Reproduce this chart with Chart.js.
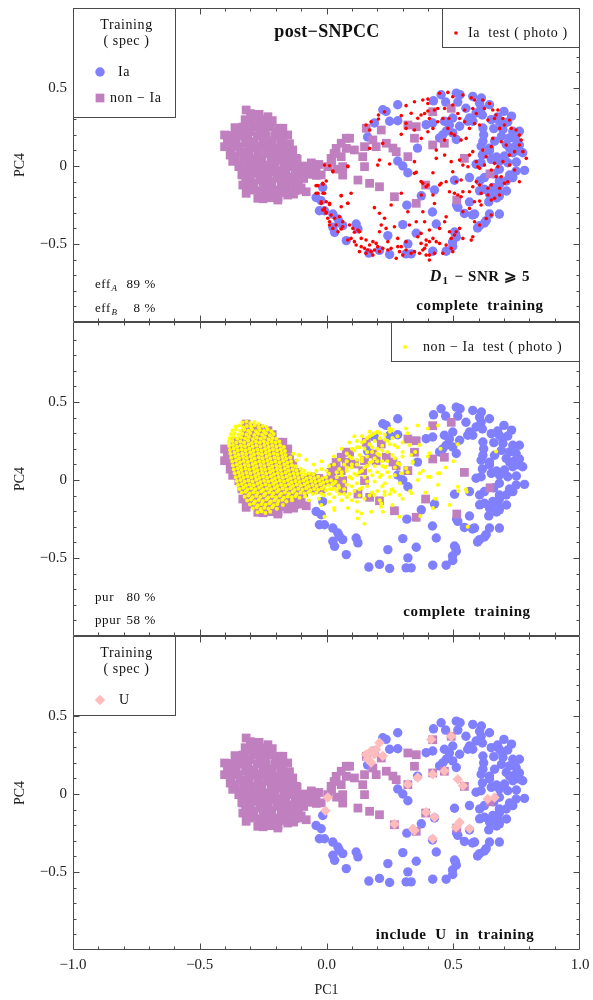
<!DOCTYPE html>
<html>
<head>
<meta charset="utf-8">
<title>post-SNPCC PCA projections</title>
<script src="https://cdn.jsdelivr.net/npm/chart.js@4.4.1/dist/chart.umd.min.js"></script>
<style>
  html, body { margin: 0; padding: 0; background: #fff; }
  #wrap { position: relative; width: 593px; height: 1000px; }
  #wrap canvas { position: absolute; left: 0; top: 0; }
</style>
</head>
<body>
<div id="wrap">
  <canvas id="panelTop" width="593" height="1000"></canvas>
  <canvas id="panelMid" width="593" height="1000"></canvas>
  <canvas id="panelBot" width="593" height="1000"></canvas>
</div>
<script>
// ---- axis ticks -------------------------------------------------------
const xTickValues = [-1, -0.5, 0, 0.5, 1];
const xMinorTicks = [-0.9, -0.8, -0.7, -0.6, -0.4, -0.3, -0.2, -0.1, 0.1, 0.2, 0.3, 0.4, 0.6, 0.7, 0.8, 0.9];
const yTickValues = [-0.5, 0, 0.5];
const yMinorTicks = [-0.9, -0.8, -0.7, -0.6, -0.4, -0.3, -0.2, -0.1, 0.1, 0.2, 0.3, 0.4, 0.6, 0.7, 0.8, 0.9];

// ---- Ia training sample (spec) : [PC1, PC4] ---------------------------
const iaTrain = [
  [0.452,0.457],[0.422,0.418],[0.512,0.467],[0.527,0.457],[0.518,0.410],[0.577,0.446],[0.604,0.403],[0.610,0.371],
  [0.643,0.393],[0.590,0.340],[0.577,0.287],[0.617,0.244],[0.650,0.297],[0.682,0.287],[0.715,0.282],[0.696,0.234],
  [0.735,0.223],[0.761,0.223],[0.722,0.180],[0.748,0.170],[0.617,0.159],[0.610,0.127],[0.663,0.159],[0.709,0.138],
  [0.761,0.096],[0.735,0.085],[0.774,0.085],[0.643,0.096],[0.650,0.043],[0.682,0.032],[0.702,0.064],[0.715,0.021],
  [0.682,-0.021],[0.610,0.021],[0.590,0.011],[0.748,-0.032],[0.781,-0.028],[0.735,-0.074],[0.709,-0.096],[0.682,-0.096],
  [0.656,-0.138],[0.676,-0.159],[0.682,-0.191],[0.643,-0.180],[0.623,-0.149],[0.604,-0.096],[0.564,-0.074],[0.505,-0.091],
  [0.604,-0.159],[0.557,0.287],[0.525,0.255],[0.498,0.308],[0.465,0.287],[0.472,0.223],[0.498,0.212],[0.512,0.170],
  [0.446,0.180],[0.419,0.276],[0.393,0.265],[0.281,0.393],[0.249,0.287],[0.281,0.290],[0.222,0.361],[0.235,0.350],
  [0.281,0.032],[0.301,0.000],[0.321,-0.043],[-0.015,-0.138],[-0.041,-0.202],[-0.021,-0.223],[-0.028,-0.287],[-0.008,-0.287],
  [0.025,-0.308],[0.045,-0.340],[0.051,-0.361],[0.025,-0.393],[0.032,-0.425],[0.064,-0.382],[0.078,-0.478],[0.117,-0.372],
  [0.124,-0.403],[0.242,-0.446],[0.301,-0.376],[0.354,-0.431],[0.433,-0.372],[0.321,-0.499],[0.314,-0.563],[0.334,-0.563],
  [0.209,-0.541],[0.167,-0.558],[0.249,-0.567],[0.419,-0.546],[0.472,-0.546],[0.498,-0.516],[0.509,-0.435],[0.512,-0.456],
  [0.604,-0.382],[0.630,-0.350],[0.643,-0.308],[0.682,-0.308],[0.584,-0.308],[0.544,-0.304],[0.518,-0.265],[0.374,-0.191],
  [0.317,-0.251],[0.623,-0.074],[0.611,0.436],[0.675,0.314],[0.694,0.263],[0.615,0.327],[0.564,0.308],[0.485,0.263],
  [0.458,0.199],[0.643,0.115],[0.615,0.071],[0.671,0.058],[0.722,0.115],[0.761,0.135],[0.749,0.026],[0.722,-0.058],
  [0.682,-0.122],[0.671,-0.205],[0.426,-0.154],[0.513,-0.250],[0.564,-0.231],[0.576,-0.314],[0.623,-0.365],[0.596,-0.397],
  [0.418,-0.295],[0.505,-0.423],[0.497,-0.487],[0.189,0.276],[0.162,0.186],[0.359,0.115],[0.700,0.350],[0.730,0.320],
  [0.660,0.240],[0.690,0.190],[0.740,0.120],[0.620,0.200],[0.660,-0.050],[0.710,-0.160],[0.640,-0.230],[0.550,0.370],
  [0.470,0.410]
];

// ---- non-Ia training sample (spec) ------------------------------------
const nonIaTrain = [
  [-0.317,0.359],[-0.271,0.316],[-0.231,0.316],[-0.310,0.284],[-0.264,0.274],[-0.225,0.263],[-0.172,0.242],[-0.153,0.199],
  [-0.402,0.199],[-0.356,0.231],[-0.304,0.220],[-0.370,0.178],[-0.402,0.124],[-0.350,0.124],[-0.291,0.156],[-0.238,0.188],
  [-0.218,0.135],[-0.179,0.156],[-0.172,0.092],[-0.133,0.103],[-0.120,0.049],[-0.363,0.060],[-0.317,0.081],[-0.271,0.103],
  [-0.225,0.081],[-0.185,0.038],[-0.343,0.006],[-0.291,0.017],[-0.245,0.006],[-0.205,-0.015],[-0.159,0.006],[-0.120,-0.015],
  [-0.330,-0.058],[-0.284,-0.047],[-0.238,-0.058],[-0.192,-0.079],[-0.146,-0.069],[-0.107,-0.058],[-0.074,-0.015],[-0.041,-0.026],
  [0.005,-0.004],[0.018,0.049],[0.058,0.060],[0.064,-0.004],[0.064,-0.058],[0.058,0.146],[0.078,0.178],[-0.330,-0.122],
  [-0.291,-0.133],[-0.245,-0.122],[-0.205,-0.154],[-0.159,-0.154],[-0.113,-0.154],[-0.317,-0.175],[-0.271,-0.207],[-0.231,-0.197],
  [-0.192,-0.218],[-0.153,-0.186],[-0.080,-0.165],
  [-0.290,0.330],[-0.250,0.290],[-0.330,0.250],[-0.280,0.250],[-0.200,0.220],[-0.370,0.150],[-0.320,0.190],[-0.260,0.200],
  [-0.230,0.160],[-0.340,0.090],[-0.300,0.120],[-0.260,0.130],[-0.200,0.110],[-0.160,0.130],[-0.370,0.030],[-0.310,0.050],
  [-0.270,0.050],[-0.210,0.050],[-0.150,0.060],[-0.320,-0.030],[-0.260,-0.020],[-0.220,-0.040],[-0.170,-0.030],[-0.130,0.020],
  [-0.310,-0.090],[-0.260,-0.090],[-0.220,-0.100],[-0.170,-0.110],[-0.120,-0.100],[-0.090,-0.080],[-0.060,-0.050],[-0.290,-0.150],
  [-0.240,-0.160],[-0.180,-0.170],[-0.130,-0.180],[-0.250,-0.210],[-0.100,-0.140],[-0.040,-0.060],[-0.030,0.010],[-0.060,0.020],
  [-0.090,0.000],[0.030,0.080],[0.020,0.030],[0.040,-0.020],[-0.350,0.200],[-0.380,0.070],
  [-0.300,0.336],[-0.266,0.331],[-0.321,0.297],[-0.286,0.292],[-0.251,0.298],[-0.214,0.291],[-0.361,0.246],[-0.324,0.241],
  [-0.291,0.248],[-0.254,0.243],[-0.222,0.249],[-0.189,0.242],[-0.386,0.196],[-0.344,0.193],[-0.311,0.198],[-0.274,0.192],
  [-0.241,0.197],[-0.204,0.191],[-0.171,0.196],[-0.391,0.146],[-0.356,0.142],[-0.319,0.148],[-0.286,0.143],[-0.249,0.147],
  [-0.216,0.141],[-0.181,0.147],[-0.146,0.143],[-0.376,0.096],[-0.339,0.092],[-0.306,0.098],[-0.269,0.093],[-0.236,0.097],
  [-0.199,0.091],[-0.166,0.096],[-0.136,0.092],[-0.359,0.046],[-0.326,0.042],[-0.289,0.048],[-0.256,0.043],[-0.219,0.047],
  [-0.186,0.041],[-0.151,0.046],[-0.116,0.043],[-0.346,-0.004],[-0.309,-0.008],[-0.276,-0.002],[-0.239,-0.007],[-0.206,-0.003],
  [-0.169,-0.009],[-0.136,-0.004],[-0.099,-0.008],[-0.066,-0.003],[-0.334,-0.054],[-0.301,-0.058],[-0.264,-0.052],[-0.231,-0.057],
  [-0.194,-0.053],[-0.161,-0.059],[-0.124,-0.054],[-0.091,-0.058],[-0.054,-0.053],[-0.021,-0.057],[-0.319,-0.104],[-0.286,-0.108],
  [-0.249,-0.102],[-0.216,-0.107],[-0.179,-0.103],[-0.146,-0.109],[-0.111,-0.104],[-0.301,-0.154],[-0.264,-0.158],[-0.231,-0.152],
  [-0.194,-0.157],[-0.161,-0.153],[-0.126,-0.158],[-0.261,-0.198],[-0.224,-0.203],[-0.191,-0.199],
  [0.078,0.113],[0.110,0.103],[0.143,0.060],[0.150,-0.004],[0.124,-0.090],[0.170,-0.111],[0.209,-0.133],[0.268,-0.197],
  [0.354,-0.239],[0.321,0.060],[0.347,0.178],[0.354,0.252],[0.321,0.263],[0.216,0.231],[0.183,0.167],[0.236,0.146],
  [0.275,0.092],[0.157,0.242],[0.091,0.178],[0.150,0.124],[0.196,0.124],[0.038,0.113],[0.419,0.348],[0.492,0.370],
  [0.419,0.135],[0.465,0.146],[0.544,0.049],[0.645,-0.050],[0.391,-0.122],[0.514,-0.218],[0.262,0.115]
];

// ---- Ia test sample (photo) -------------------------------------------
const iaTest = [
  [0.347,0.412],[0.314,0.387],[0.400,0.429],[0.334,0.338],[0.295,0.323],[0.229,0.348],[0.205,0.327],[0.205,0.301],
  [0.176,0.284],[0.156,0.263],[0.170,0.231],[0.314,0.274],[0.314,0.241],[0.347,0.231],[0.400,0.353],[0.373,0.327],
  [0.360,0.306],[0.295,0.203],[0.222,0.145],[0.209,0.038],[0.249,0.013],[0.202,0.006],[0.347,0.028],[0.354,-0.041],
  [0.373,-0.100],[0.170,0.113],[0.084,-0.004],[0.097,-0.175],[0.058,-0.190],[-0.008,0.006],[0.012,0.002],[0.025,-0.036],
  [-0.041,-0.126],[-0.015,-0.111],[-0.001,-0.096],[-0.034,-0.175],[-0.008,-0.175],[-0.021,-0.229],[0.012,-0.239],[-0.008,-0.271],
  [-0.001,-0.303],[0.018,-0.314],[-0.015,-0.282],[0.005,-0.335],[0.012,-0.357],[0.032,-0.335],[0.051,-0.325],[0.064,-0.357],
  [0.012,-0.378],[0.025,-0.400],[0.038,-0.378],[0.064,-0.389],[0.045,-0.421],[0.058,-0.404],[0.091,-0.378],[0.104,-0.400],
  [0.110,-0.425],[0.124,-0.410],[0.130,-0.421],[0.097,-0.464],[0.084,-0.474],[0.110,-0.485],[0.117,-0.506],[0.137,-0.464],
  [0.156,-0.474],[0.137,-0.517],[0.150,-0.528],[0.170,-0.506],[0.183,-0.485],[0.163,-0.538],[0.176,-0.549],[0.189,-0.538],
  [0.202,-0.517],[0.209,-0.549],[0.222,-0.528],[0.242,-0.538],[0.255,-0.528],[0.281,-0.517],[0.288,-0.549],[0.301,-0.571],
  [0.314,-0.538],[0.334,-0.560],[0.347,-0.549],[0.367,-0.560],[0.380,-0.538],[0.393,-0.506],[0.295,-0.517],[0.275,-0.592],
  [0.235,-0.400],[0.268,-0.389],[0.281,-0.464],[0.216,-0.378],[0.209,-0.421],[0.327,-0.378],[0.354,-0.357],[0.373,-0.496],
  [0.393,-0.571],[0.406,-0.603],[0.255,-0.250],[0.229,-0.335],[0.189,-0.267],[0.209,-0.303],[0.084,-0.239],[0.058,-0.261],
  [0.295,-0.175],[0.321,-0.293],[0.406,-0.485],[0.314,-0.485],[0.242,-0.485],[0.183,-0.571],[0.156,-0.560],[0.130,-0.549],
  [0.196,-0.496],[0.360,-0.453],[0.373,-0.432],[0.347,-0.047],[0.380,-0.111],[0.400,-0.122],
  [0.446,0.466],[0.479,0.472],[0.498,0.444],[0.538,0.455],[0.571,0.438],[0.584,0.423],[0.617,0.423],[0.643,0.401],
  [0.656,0.359],[0.676,0.359],[0.669,0.327],[0.663,0.305],[0.696,0.305],[0.722,0.295],[0.702,0.263],[0.683,0.241],
  [0.729,0.241],[0.748,0.231],[0.761,0.198],[0.768,0.166],[0.761,0.134],[0.775,0.092],[0.788,0.049],[0.742,0.092],
  [0.722,0.070],[0.709,0.134],[0.689,0.156],[0.656,0.177],[0.650,0.124],[0.617,0.102],[0.630,0.060],[0.663,0.017],
  [0.623,0.006],[0.597,-0.005],[0.591,0.028],[0.564,0.070],[0.577,0.092],[0.551,0.177],[0.531,0.166],[0.505,0.198],
  [0.492,0.209],[0.479,0.241],[0.459,0.305],[0.439,0.284],[0.406,0.305],[0.387,0.337],[0.380,0.423],[0.400,0.401],
  [0.426,0.359],[0.439,0.369],[0.498,0.391],[0.518,0.337],[0.545,0.359],[0.577,0.369],[0.591,0.337],[0.623,0.369],
  [0.637,0.295],[0.604,0.263],[0.584,0.273],[0.564,0.241],[0.545,0.284],[0.525,0.305],[0.483,0.305],[0.466,0.369],
  [0.420,0.241],[0.400,0.220],[0.374,0.177],[0.433,0.102],[0.466,0.166],[0.433,0.049],[0.466,0.070],[0.492,0.028],
  [0.525,0.038],[0.538,0.006],[0.558,-0.005],[0.604,-0.015],[0.650,-0.026],[0.676,-0.005],[0.696,0.028],[0.722,0.006],
  [0.742,-0.026],[0.761,-0.101],[0.715,-0.101],[0.689,-0.069],[0.669,-0.069],[0.650,-0.122],[0.637,-0.143],[0.604,-0.122],
  [0.591,-0.101],[0.577,-0.133],[0.610,-0.175],[0.637,-0.186],[0.663,-0.207],[0.683,-0.186],[0.702,-0.111],[0.683,-0.143],
  [0.650,-0.218],[0.584,-0.229],[0.604,-0.225],[0.564,-0.165],[0.538,-0.165],[0.531,-0.197],[0.505,-0.175],[0.518,-0.186],
  [0.485,-0.165],[0.446,-0.122],[0.452,-0.111],[0.393,-0.133],[0.420,-0.043],[0.498,-0.037],[0.512,-0.101],[0.531,-0.090],
  [0.472,-0.101],[0.538,-0.293],[0.564,-0.272],[0.584,-0.357],[0.604,-0.378],[0.512,-0.421],[0.525,-0.400],[0.485,-0.421],
  [0.466,-0.357],[0.472,-0.325],[0.492,-0.464],[0.505,-0.443],[0.538,-0.464],[0.571,-0.475],[0.577,-0.453],[0.446,-0.496],
  [0.433,-0.485],[0.420,-0.464],[0.393,-0.475],[0.387,-0.528],[0.406,-0.571],[0.426,-0.560],[0.459,-0.560],[0.492,-0.528],
  [0.498,-0.549],[0.472,-0.507],[0.446,-0.400],[0.406,-0.410],[0.387,-0.357],[0.380,-0.293],[0.426,-0.240],[0.420,-0.186],
  [0.374,-0.186],[0.610,-0.250],[0.650,-0.314],[0.630,-0.336],
  [0.025,-0.032],[0.084,0.000],[-0.034,-0.126],[-0.014,-0.118],[-0.041,-0.175],[-0.014,-0.175],[0.058,-0.190],[0.084,-0.239],
  [-0.021,-0.239],[-0.001,-0.229],[0.012,-0.246],[-0.008,-0.282],[-0.001,-0.297]
];

// ---- non-Ia test sample (photo) ---------------------------------------
const nonIaTest = [
  [-0.332,0.368],[-0.316,0.375],[-0.300,0.364],[-0.284,0.372],[-0.268,0.361],
  [-0.360,0.343],[-0.345,0.350],[-0.329,0.339],[-0.314,0.347],[-0.298,0.341],[-0.283,0.351],[-0.267,0.338],[-0.252,0.346],[-0.237,0.340],
  [-0.371,0.318],[-0.356,0.325],[-0.340,0.314],[-0.325,0.322],[-0.309,0.316],[-0.294,0.326],[-0.278,0.313],[-0.263,0.321],[-0.247,0.315],[-0.232,0.324],[-0.217,0.312],
  [-0.377,0.293],[-0.363,0.300],[-0.347,0.289],[-0.332,0.297],[-0.316,0.291],[-0.301,0.301],[-0.285,0.288],[-0.270,0.296],[-0.254,0.290],[-0.239,0.299],[-0.223,0.287],[-0.208,0.295],
  [-0.382,0.268],[-0.368,0.275],[-0.352,0.264],[-0.337,0.272],[-0.321,0.266],[-0.306,0.276],[-0.290,0.263],[-0.275,0.271],[-0.259,0.265],[-0.244,0.274],[-0.228,0.262],[-0.213,0.270],[-0.198,0.264],
  [-0.386,0.243],[-0.371,0.250],[-0.356,0.239],[-0.340,0.247],[-0.325,0.241],[-0.309,0.251],[-0.294,0.238],[-0.278,0.246],[-0.263,0.240],[-0.247,0.249],[-0.232,0.237],[-0.216,0.245],[-0.201,0.239],[-0.186,0.247],
  [-0.384,0.218],[-0.369,0.225],[-0.353,0.214],[-0.338,0.222],[-0.322,0.216],[-0.307,0.226],[-0.291,0.213],[-0.276,0.221],[-0.260,0.215],[-0.245,0.224],[-0.229,0.212],[-0.214,0.220],[-0.198,0.214],[-0.183,0.223],[-0.168,0.211],
  [-0.381,0.193],[-0.366,0.200],[-0.350,0.189],[-0.335,0.197],[-0.319,0.191],[-0.304,0.201],[-0.288,0.188],[-0.273,0.196],[-0.257,0.190],[-0.242,0.199],[-0.226,0.187],[-0.211,0.195],[-0.195,0.189],[-0.180,0.198],[-0.164,0.186],
  [-0.379,0.168],[-0.363,0.175],[-0.348,0.164],[-0.332,0.172],[-0.317,0.166],[-0.301,0.176],[-0.286,0.163],[-0.270,0.171],[-0.255,0.165],[-0.239,0.174],[-0.224,0.162],[-0.208,0.170],[-0.193,0.164],[-0.177,0.173],[-0.162,0.161],[-0.131,0.168],[-0.108,0.158],
  [-0.376,0.143],[-0.360,0.150],[-0.345,0.139],[-0.329,0.147],[-0.314,0.141],[-0.298,0.151],[-0.283,0.138],[-0.267,0.146],[-0.252,0.140],[-0.236,0.149],[-0.221,0.137],[-0.205,0.145],[-0.190,0.139],[-0.174,0.148],[-0.159,0.136],[-0.143,0.144],
  [-0.372,0.118],[-0.357,0.125],[-0.341,0.114],[-0.326,0.122],[-0.310,0.116],[-0.295,0.126],[-0.279,0.113],[-0.264,0.121],[-0.248,0.115],[-0.233,0.124],[-0.217,0.112],[-0.202,0.120],[-0.186,0.114],[-0.171,0.123],[-0.155,0.111],[-0.140,0.119],[-0.118,0.126],
  [-0.369,0.093],[-0.353,0.100],[-0.338,0.089],[-0.322,0.097],[-0.307,0.091],[-0.291,0.101],[-0.276,0.088],[-0.260,0.096],[-0.245,0.090],[-0.229,0.099],[-0.214,0.087],[-0.198,0.095],[-0.183,0.089],[-0.167,0.098],[-0.152,0.086],[-0.136,0.094],[-0.121,0.088],
  [-0.366,0.068],[-0.350,0.075],[-0.335,0.064],[-0.319,0.072],[-0.304,0.066],[-0.288,0.076],[-0.273,0.063],[-0.257,0.071],[-0.242,0.065],[-0.226,0.074],[-0.211,0.062],[-0.195,0.070],[-0.180,0.064],[-0.164,0.073],[-0.149,0.061],[-0.133,0.069],[-0.118,0.063],[-0.102,0.072],[-0.087,0.060],
  [-0.362,0.043],[-0.347,0.050],[-0.331,0.039],[-0.316,0.047],[-0.300,0.041],[-0.285,0.051],[-0.269,0.038],[-0.254,0.046],[-0.238,0.040],[-0.223,0.049],[-0.207,0.037],[-0.192,0.045],[-0.176,0.039],[-0.161,0.048],[-0.145,0.036],[-0.130,0.044],[-0.114,0.038],[-0.099,0.047],[-0.083,0.035],[-0.068,0.043],[-0.052,0.037],
  [-0.358,0.018],[-0.343,0.025],[-0.327,0.014],[-0.312,0.022],[-0.296,0.016],[-0.281,0.026],[-0.265,0.013],[-0.250,0.021],[-0.234,0.015],[-0.219,0.024],[-0.203,0.012],[-0.188,0.020],[-0.172,0.014],[-0.157,0.023],[-0.141,0.011],[-0.126,0.019],[-0.110,0.013],[-0.095,0.022],[-0.079,0.010],[-0.064,0.018],[-0.048,0.012],[-0.033,0.021],[-0.017,0.009],[-0.002,0.017],
  [-0.354,-0.007],[-0.339,0.000],[-0.323,-0.011],[-0.308,-0.003],[-0.292,-0.009],[-0.277,0.001],[-0.261,-0.012],[-0.246,-0.004],[-0.230,-0.010],[-0.215,-0.001],[-0.199,-0.013],[-0.184,-0.005],[-0.168,-0.011],[-0.153,-0.002],[-0.137,-0.014],[-0.122,-0.006],[-0.106,-0.012],[-0.091,-0.003],[-0.075,-0.015],[-0.060,-0.007],[-0.044,-0.013],[-0.029,-0.004],[-0.013,-0.016],[0.002,-0.008],[0.018,-0.002],[0.036,-0.011],
  [-0.349,-0.032],[-0.334,-0.025],[-0.318,-0.036],[-0.303,-0.028],[-0.287,-0.034],[-0.272,-0.024],[-0.256,-0.037],[-0.241,-0.029],[-0.225,-0.035],[-0.210,-0.026],[-0.194,-0.038],[-0.179,-0.030],[-0.163,-0.036],[-0.148,-0.027],[-0.132,-0.039],[-0.117,-0.031],[-0.101,-0.037],[-0.086,-0.028],[-0.070,-0.040],[-0.055,-0.032],[-0.039,-0.038],[-0.024,-0.029],[-0.008,-0.041],[0.007,-0.033],[0.023,-0.027],[0.047,-0.035],
  [-0.343,-0.057],[-0.328,-0.050],[-0.312,-0.061],[-0.297,-0.053],[-0.281,-0.059],[-0.266,-0.049],[-0.250,-0.062],[-0.235,-0.054],[-0.219,-0.060],[-0.204,-0.051],[-0.188,-0.063],[-0.173,-0.055],[-0.157,-0.061],[-0.142,-0.052],[-0.126,-0.064],[-0.111,-0.056],[-0.095,-0.062],[-0.080,-0.053],[-0.064,-0.065],[-0.049,-0.057],[-0.033,-0.063],[-0.018,-0.054],[-0.002,-0.066],[0.013,-0.058],[0.031,-0.052],
  [-0.334,-0.082],[-0.319,-0.075],[-0.303,-0.086],[-0.288,-0.078],[-0.272,-0.084],[-0.257,-0.074],[-0.241,-0.087],[-0.226,-0.079],[-0.210,-0.085],[-0.195,-0.076],[-0.179,-0.088],[-0.164,-0.080],[-0.148,-0.086],[-0.133,-0.077],[-0.117,-0.089],[-0.102,-0.081],[-0.086,-0.087],[-0.071,-0.078],[-0.055,-0.090],[-0.040,-0.082],[-0.021,-0.088],
  [-0.323,-0.107],[-0.308,-0.100],[-0.292,-0.111],[-0.277,-0.103],[-0.261,-0.109],[-0.246,-0.099],[-0.230,-0.112],[-0.215,-0.104],[-0.199,-0.110],[-0.184,-0.101],[-0.168,-0.113],[-0.153,-0.105],[-0.137,-0.111],[-0.122,-0.102],[-0.106,-0.114],[-0.084,-0.106],
  [-0.313,-0.132],[-0.298,-0.125],[-0.282,-0.136],[-0.267,-0.128],[-0.251,-0.134],[-0.236,-0.124],[-0.220,-0.137],[-0.205,-0.129],[-0.189,-0.135],[-0.174,-0.126],[-0.158,-0.138],[-0.136,-0.130],
  [-0.302,-0.157],[-0.287,-0.150],[-0.271,-0.161],[-0.256,-0.153],[-0.240,-0.159],[-0.225,-0.149],[-0.209,-0.162],[-0.194,-0.154],[-0.172,-0.160],
  [-0.291,-0.182],[-0.276,-0.175],[-0.260,-0.186],[-0.245,-0.178],[-0.229,-0.184],[-0.214,-0.174],[-0.196,-0.185],
  [-0.272,-0.207],[-0.256,-0.200],[-0.241,-0.211],[-0.222,-0.203],
  [0.060,0.030],[0.080,0.060],[0.070,-0.010],[0.090,0.020],[0.100,0.080],[0.110,0.040],[0.120,0.100],[0.100,0.140],
  [0.130,0.160],[0.120,0.210],[0.140,0.240],[0.150,0.200],[0.160,0.270],[0.170,0.230],[0.180,0.290],[0.190,0.250],
  [0.200,0.310],[0.210,0.270],[0.220,0.220],[0.230,0.290],[0.240,0.250],[0.250,0.310],[0.260,0.270],[0.140,0.120],
  [0.160,0.150],[0.180,0.180],[0.200,0.200],[0.150,0.080],[0.170,0.110],[0.190,0.140],[0.210,0.160],[0.130,0.050],
  [0.150,0.020],[0.170,0.060],[0.190,0.090],[0.220,0.120],[0.240,0.180],[0.120,-0.020],[0.140,-0.050],[0.160,-0.010],
  [0.180,0.030],[0.200,0.050],[0.110,-0.070],[0.130,-0.100],[0.090,-0.090],[0.070,-0.060],[0.050,-0.090],[0.030,-0.110],
  [0.060,-0.130],[0.010,-0.140],[0.100,-0.130],[0.150,-0.120],[0.180,-0.080],[0.220,-0.040],[0.250,0.020],[0.270,0.080],
  [0.280,0.210],[0.300,0.240],[0.270,0.140],[0.230,0.080],[0.260,-0.060],[0.290,-0.020],[0.320,0.050],[0.340,0.110],
  [0.330,-0.070],[0.360,0.000],[0.380,0.060],[0.410,0.020],[0.390,-0.080],[0.440,-0.030],[0.470,0.080],[0.520,-0.070],
  [0.550,-0.060],[0.350,0.180],[0.400,0.150],[0.450,0.200],[0.500,0.120],[0.430,-0.120],[0.210,-0.130],[0.260,-0.160],
  [0.300,-0.120],[0.080,0.120],[0.050,0.070],[-0.020,0.120],[-0.050,0.100],[-0.080,0.130],[-0.110,0.160],[0.010,0.090],
  [0.030,0.150],[0.060,0.200],[0.090,0.240],[0.110,0.280],[-0.030,-0.120],[-0.070,-0.130],[-0.020,-0.160],[0.030,-0.180],
  [0.120,-0.200],[0.370,-0.230],[0.250,-0.090],[0.320,0.300],[0.440,0.350],[0.360,0.350],
  [0.400,0.330],[0.314,0.330],[0.248,0.330],[0.268,0.225],[0.327,0.225],[0.367,0.225],[0.406,0.171],[0.446,0.043],
  [0.518,-0.043],[0.553,-0.075],[0.557,-0.299],[0.485,-0.160],[0.420,-0.180],[0.518,0.229],[0.669,0.182],[0.334,0.160],
  [0.300,0.150],[0.281,0.107],[0.235,0.086],[0.216,0.032],[0.229,-0.075],[0.255,-0.064],[0.288,-0.096],[0.334,-0.085],
  [0.216,-0.150],[0.222,-0.203],[0.288,-0.235],[0.367,0.043],[0.400,0.021],[0.440,0.043],[0.294,0.043],[0.314,0.075],
  [0.340,0.118],[0.123,-0.246],[-0.008,-0.235],[0.031,-0.192],[0.084,-0.180],[0.137,-0.214],[0.176,-0.203],[0.215,-0.171],
  [0.229,-0.096],[0.268,-0.075],[0.189,-0.096],[0.150,-0.280],
  [0.070,0.100],[0.090,0.150],[0.110,0.190],[0.130,0.210],[0.150,0.250],[0.170,0.280],[0.190,0.300],[0.210,0.300],
  [0.230,0.260],[0.250,0.230],[0.220,0.190],[0.200,0.170],[0.180,0.210],[0.160,0.180],[0.140,0.140],[0.120,0.130],
  [0.100,0.100],[0.080,0.080],[0.060,0.050],[0.040,0.020],[0.030,-0.020],[0.050,-0.050],[0.080,-0.030],[0.100,0.010],
  [0.120,0.030],[0.140,0.060],[0.160,0.090],[0.180,0.120],[0.200,0.120],[0.220,0.090],[0.240,0.120],[0.260,0.160],
  [0.240,0.050],[0.210,0.020],[0.190,-0.010],[0.160,-0.040],[0.130,-0.060],[0.100,-0.040],[0.070,-0.090],[0.040,-0.070],
  [0.020,-0.060],[0.010,-0.090],[-0.010,-0.100],[0.080,-0.110],[0.120,-0.140],[0.170,-0.100],[0.200,-0.070],[0.230,-0.020],
  [0.270,0.030],[0.290,0.100],[0.300,0.180],[0.280,0.280],[0.260,0.320],[0.170,0.310],[0.140,0.280],[0.120,0.250],
  [0.100,0.200],[0.080,0.170],[0.050,0.130],[0.030,0.100],[0.000,0.060],[-0.020,0.070],[-0.040,0.060],[0.010,0.040],
  [0.040,0.050]
];

// ---- unclassified (U) spectroscopic sample ----------------------------
const uTrain = [
  [0.209,0.329],[0.176,0.276],[0.156,0.254],[0.189,0.254],[0.222,0.244],[0.176,0.201],[0.163,0.223],[0.196,0.286],
  [0.413,0.350],[0.492,0.371],[0.419,0.127],[0.465,0.148],[0.360,0.106],[0.321,0.063],[0.518,0.095],[0.538,0.053],
  [0.636,-0.032],[0.663,-0.022],[0.005,-0.022],[-0.004,-0.107],[0.393,-0.117],[0.426,-0.149],[0.268,-0.192],[0.347,-0.234],
  [0.341,-0.223],[0.419,-0.287],[0.525,-0.181],[0.511,-0.213],[0.564,-0.223]
];

// ---- styling ----------------------------------------------------------
const SERIF = '"Liberation Serif", "Times New Roman", Times, serif';
const FRAME = '#4a4a4a';
const TEXT = '#111';
const Y_MIN = -1.0, Y_MAX = 1.013;

const toXY = pts => pts.map(([x, y]) => ({ x, y }));

const styles = {
  ia:     { label: 'Ia', color: '#8080ff', pointStyle: 'circle', radius: 4.7 },
  nonIa:  { label: 'non \u2212 Ia', color: '#c080c0', pointStyle: 'rect', radius: 6.2 },
  iaT:    { label: 'Ia  test ( photo )', color: '#ff0000', pointStyle: 'circle', radius: 1.8 },
  nonIaT: { label: 'non \u2212 Ia  test ( photo )', color: '#ffff00', pointStyle: 'circle', radius: 2.0 },
  u:      { label: 'U', color: '#ffbcbc', pointStyle: 'rectRot', radius: 5.2 }
};

function dataset(points, st, order) {
  return {
    label: st.label,
    data: toXY(points),
    backgroundColor: st.color,
    borderWidth: 0,
    pointStyle: st.pointStyle,
    pointRadius: st.radius,
    pointHoverRadius: st.radius,
    order
  };
}

function fmtX(v) {
  if (v === 0) return '0.0';
  return (v < 0 ? '\u2212' : '') + Math.abs(v).toFixed(1);
}
function fmtY(v) {
  if (v === 0) return '0';
  return (v < 0 ? '\u2212' : '') + Math.abs(v);
}

// frame around each panel with inward-pointing tick marks
const framePlugin = {
  id: 'panelFrame',
  afterDatasetsDraw(chart) {
    const { ctx, chartArea: a, scales: { x, y } } = chart;
    ctx.save();
    ctx.strokeStyle = FRAME;
    ctx.lineWidth = 1;
    ctx.beginPath();
    const L = Math.round(a.left) + 0.5, R = Math.round(a.right) - 0.5;
    const T = Math.round(a.top) + 0.5, B = Math.round(a.bottom) - 0.5;
    ctx.rect(L, T, R - L, B - T);
    const xt = (vals, len) => vals.forEach(v => {
      const px = Math.round(x.getPixelForValue(v)) + 0.5;
      ctx.moveTo(px, B); ctx.lineTo(px, B - len);
      ctx.moveTo(px, T); ctx.lineTo(px, T + len);
    });
    const yt = (vals, len) => vals.forEach(v => {
      const py = Math.round(y.getPixelForValue(v)) + 0.5;
      ctx.moveTo(L, py); ctx.lineTo(L + len, py);
      ctx.moveTo(R, py); ctx.lineTo(R - len, py);
    });
    xt(xTickValues.slice(1, -1), 6); xt(xMinorTicks, 3);
    yt(yTickValues, 6); yt(yMinorTicks, 3);
    ctx.stroke();
    ctx.restore();
  }
};

function drawMarker(ctx, st, cx, cy) {
  ctx.fillStyle = st.color;
  ctx.beginPath();
  if (st.pointStyle === 'circle') {
    ctx.arc(cx, cy, st.radius, 0, Math.PI * 2);
  } else if (st.pointStyle === 'rect') {
    const h = st.radius * Math.SQRT1_2;
    ctx.rect(cx - h, cy - h, 2 * h, 2 * h);
  } else {
    const r = st.radius;
    ctx.moveTo(cx - r, cy); ctx.lineTo(cx, cy - r); ctx.lineTo(cx + r, cy); ctx.lineTo(cx, cy + r);
    ctx.closePath();
  }
  ctx.fill();
}

function box(ctx, x0, y0, x1, y1) {
  ctx.fillStyle = '#fff';
  ctx.fillRect(x0, y0, x1 - x0, y1 - y0);
  ctx.strokeStyle = FRAME;
  ctx.lineWidth = 1;
  ctx.strokeRect(x0 + 0.5, y0 + 0.5, x1 - x0 - 1, y1 - y0 - 1);
}

function text(ctx, str, x, y, opt = {}) {
  ctx.font = `${opt.style || ''} ${opt.weight || 'normal'} ${opt.size || 14}px ${SERIF}`;
  ctx.fillStyle = opt.color || TEXT;
  ctx.textAlign = opt.align || 'left';
  ctx.textBaseline = 'middle';
  ctx.letterSpacing = (opt.spacing != null ? opt.spacing : 0.6) + 'px';
  ctx.fillText(str, x, y);
  const w = ctx.measureText(str).width;
  ctx.letterSpacing = '0px';
  return w;
}

// label with a subscript, e.g. eff_A
function subLabel(ctx, main, sub, x, y, size, weight, mainStyle) {
  const w = text(ctx, main, x, y, { size, weight, style: mainStyle || '' });
  const w2 = text(ctx, sub, x + w + 0.5, y + size * 0.3, { size: Math.round(size * 0.68), weight, style: 'italic', spacing: 0 });
  return w + w2 + 0.5;
}

function trainingLegend(ctx, entries, x0, y0, x1, y1) {
  box(ctx, x0, y0, x1, y1);
  const cx = (x0 + x1) / 2;
  text(ctx, 'Training', cx + 2, y0 + 17, { align: 'center', size: 14 });
  text(ctx, '( spec )', cx + 2, y0 + 33.5, { align: 'center', size: 14 });
  entries.forEach((e, i) => {
    const cy = y0 + 64 + i * 26;
    drawMarker(ctx, e.st, x0 + 27, cy);
    text(ctx, e.st.label, x0 + e.tx, cy, { size: 14 });
  });
}

const topDecor = {
  id: 'topDecor',
  afterDraw(chart) {
    const ctx = chart.ctx;
    ctx.save();
    text(ctx, 'post\u2212SNPCC', 327, 32, { align: 'center', size: 18, weight: 'bold', spacing: 0.3 });
    trainingLegend(ctx, [{ st: styles.ia, tx: 45 }, { st: styles.nonIa, tx: 37 }], 73, 8, 176, 118);
    box(ctx, 442, 8, 580, 48);
    drawMarker(ctx, styles.iaT, 456, 33);
    text(ctx, styles.iaT.label, 468, 33, { size: 14 });
    // efficiencies
    subLabel(ctx, 'eff', 'A', 95, 285, 13, 'normal');
    text(ctx, '89 %', 156, 285, { size: 13, align: 'right' });
    subLabel(ctx, 'eff', 'B', 95, 309, 13, 'normal');
    text(ctx, '8 %', 156, 309, { size: 13, align: 'right' });
    // sample description
    ctx.font = `bold 15px ${SERIF}`;
    const rest = ' \u2212 SNR \u2A7E 5';
    ctx.letterSpacing = '0.6px';
    const wRest = ctx.measureText(rest).width;
    ctx.font = `italic bold 16px ${SERIF}`;
    const wD = ctx.measureText('D').width;
    ctx.font = `bold 11px ${SERIF}`;
    const w1 = ctx.measureText('1').width;
    ctx.letterSpacing = '0px';
    const sx = 480 - (wD + w1 + 2 + wRest) / 2;
    text(ctx, 'D', sx, 277, { size: 16, weight: 'bold', style: 'italic', spacing: 0.6 });
    text(ctx, '1', sx + wD + 0.5, 281, { size: 11, weight: 'bold', spacing: 0 });
    text(ctx, rest, sx + wD + w1 + 2, 277, { size: 15, weight: 'bold', spacing: 0.6 });
    text(ctx, 'complete  training', 480, 306, { align: 'center', size: 15, weight: 'bold', spacing: 0.6 });
    ctx.restore();
  }
};

const midDecor = {
  id: 'midDecor',
  afterDraw(chart) {
    const ctx = chart.ctx;
    ctx.save();
    box(ctx, 391, 322, 580, 362);
    drawMarker(ctx, styles.nonIaT, 405, 347);
    text(ctx, styles.nonIaT.label, 423, 347, { size: 14 });
    text(ctx, 'pur', 95, 598, { size: 13 });
    text(ctx, '80 %', 156, 598, { size: 13, align: 'right' });
    text(ctx, 'ppur', 95, 621, { size: 13 });
    text(ctx, '58 %', 156, 621, { size: 13, align: 'right' });
    text(ctx, 'complete  training', 467, 612, { align: 'center', size: 15, weight: 'bold', spacing: 0.6 });
    ctx.restore();
  }
};

const botDecor = {
  id: 'botDecor',
  afterDraw(chart) {
    const ctx = chart.ctx;
    ctx.save();
    trainingLegend(ctx, [{ st: styles.u, tx: 46 }], 73, 636, 176, 716);
    text(ctx, 'include  U  in  training', 455, 935, { align: 'center', size: 15, weight: 'bold', spacing: 0.6 });
    ctx.restore();
  }
};

function makePanel(id, top, bottom, datasets, decor, showX) {
  return new Chart(document.getElementById(id), {
    type: 'scatter',
    data: { datasets },
    options: {
      responsive: false,
      animation: false,
      devicePixelRatio: 1,
      events: [],
      layout: { padding: { top, bottom: showX ? 0 : 1000 - bottom, left: 0, right: 13 } },
      plugins: { legend: { display: false }, tooltip: { enabled: false } },
      scales: {
        x: {
          type: 'linear', min: -1, max: 1, position: 'bottom', display: showX,
          grid: { display: false, drawTicks: false }, border: { display: false },
          afterBuildTicks: s => { s.ticks = xTickValues.map(v => ({ value: v })); },
          afterFit: s => { if (showX) s.height = 50; s.paddingLeft = 0; s.paddingRight = 0; },
          ticks: { padding: 6, autoSkip: false, maxRotation: 0, color: '#222',
                   font: { family: SERIF, size: 15 }, callback: v => fmtX(v) },
          title: { display: true, text: 'PC1', color: '#222', font: { family: SERIF, size: 14 },
                   padding: { top: 0, bottom: 1 } }
        },
        y: {
          type: 'linear', min: Y_MIN, max: Y_MAX, position: 'left',
          grid: { display: false, drawTicks: false }, border: { display: false },
          afterBuildTicks: s => { s.ticks = yTickValues.map(v => ({ value: v })); },
          afterFit: s => { s.width = 73; s.paddingTop = 0; s.paddingBottom = 0; },
          ticks: { padding: 6, color: '#222', font: { family: SERIF, size: 15 }, callback: v => fmtY(v) },
          title: { display: true, text: 'PC4', color: '#222', font: { family: SERIF, size: 14 },
                   padding: { top: 12, bottom: 0 } }
        }
      }
    },
    plugins: [framePlugin, decor]
  });
}

makePanel('panelTop', 8, 322, [
  dataset(iaTest, styles.iaT, 1),
  dataset(nonIaTrain, styles.nonIa, 2),
  dataset(iaTrain, styles.ia, 3)
], topDecor, false);

makePanel('panelMid', 322, 636, [
  dataset(nonIaTest, styles.nonIaT, 1),
  dataset(nonIaTrain, styles.nonIa, 2),
  dataset(iaTrain, styles.ia, 3)
], midDecor, false);

makePanel('panelBot', 636, 950, [
  dataset(uTrain, styles.u, 1),
  dataset(nonIaTrain, styles.nonIa, 2),
  dataset(iaTrain, styles.ia, 3)
], botDecor, true);
</script>
</body>
</html>
